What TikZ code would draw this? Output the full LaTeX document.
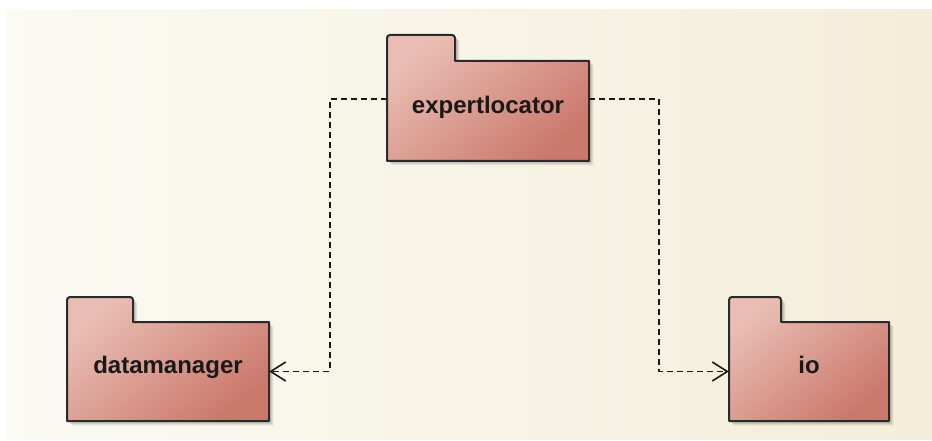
\documentclass[tikz,border=0pt]{standalone}
\usepackage{fontspec}
\setmainfont{Liberation Sans}
\usetikzlibrary{arrows.meta}

\definecolor{bgleft}{HTML}{FBFAF3}
\definecolor{bgright}{HTML}{F4EDD9}
\definecolor{pkglight}{HTML}{E9BDB3}
\definecolor{pkgdark}{HTML}{CB786C}
\definecolor{pkgline}{HTML}{2A2A2A}

% outline of a package folder: left, tab top, tab right, body top, right, bottom
\newcommand\folderpath[6]{%
  (#1,#6) -- (#1,#2+3) [rounded corners=3pt] -- (#1,#2) -- (#3,#2) [sharp corners] -- (#3,#4) -- (#5,#4) -- (#5,#6) -- cycle}

\newcommand\folder[6]{%
  \foreach \s/\o in {4.5/0.05,3.5/0.07,2.5/0.09}{%
    \fill[black,opacity=\o,shift={(\s,\s)}] \folderpath{#1}{#2}{#3}{#4}{#5}{#6};}
  \shade[top color=pkglight,bottom color=pkgdark,shading angle=40]
    \folderpath{#1}{#2}{#3}{#4}{#5}{#6};
  \draw[pkgline,line width=2pt,line join=round] \folderpath{#1}{#2}{#3}{#4}{#5}{#6};}

\tikzset{
  pkg/.style={draw=none,inner sep=0pt,text height=17pt,text depth=12.6pt,
    font=\fontsize{24}{24}\selectfont\bfseries,text=black!90},
  dep/.style={black!90,line width=1.6pt,dash pattern=on 6pt off 4pt,
    -{Straight Barb[length=15pt,width=19pt,line width=1.6pt]}}
}

\begin{document}
\begin{tikzpicture}[x=1pt,y=-1pt]
  \useasboundingbox (0,0) rectangle (932,441);
  \fill[white] (0,0) rectangle (932,441);
  \shade[left color=bgleft,right color=bgright] (7,10) rectangle (932,439);

  % packages
  \folder{387}{35}{455}{61}{589}{161}
  \node[pkg,minimum width=202pt,minimum height=100pt] (el) at (488,111) {expertlocator};

  \folder{67}{297}{133}{322}{269}{421}
  \node[pkg,minimum width=202pt,minimum height=99pt] (dm) at (168,371.5) {datamanager};

  \folder{729}{297}{781}{322}{889}{421}
  \node[pkg,minimum width=160pt,minimum height=99pt] (io) at (809,371.5) {io};

  % dependencies
  \coordinate (bendL) at (330,99);
  \coordinate (bendR) at (659,99);
  \draw[dep] ([yshift=12pt]el.west) -- (bendL) |- (dm.east);
  \draw[dep] ([yshift=12pt]el.east) -- (bendR) |- (io.west);
\end{tikzpicture}
\end{document}
